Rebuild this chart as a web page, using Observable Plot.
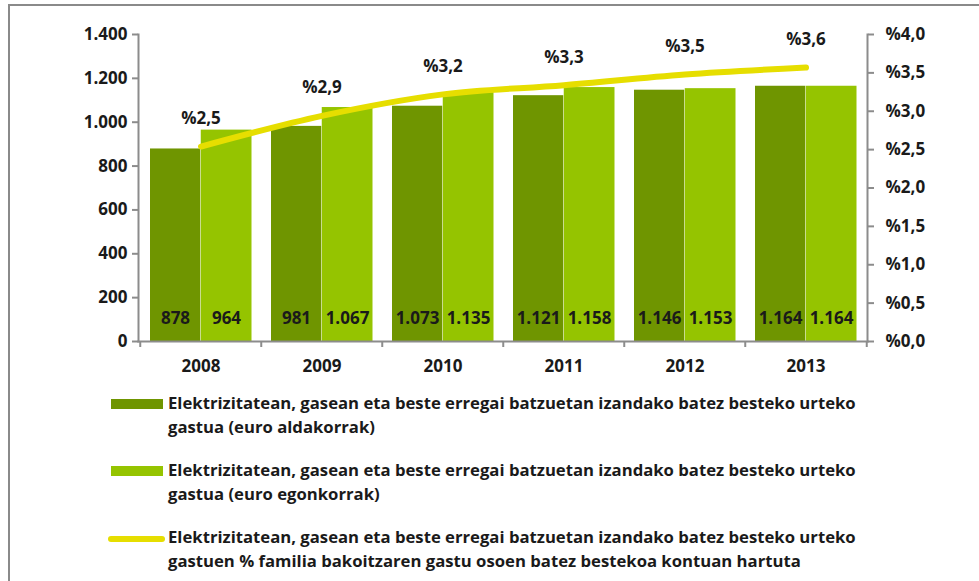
<!DOCTYPE html>
<html><head><meta charset="utf-8">
<script src="https://cdn.jsdelivr.net/npm/d3@7"></script>
<script src="https://cdn.jsdelivr.net/npm/@observablehq/plot@0.6"></script>
<style>
body{margin:0;background:#fff;font-family:"Open Sans",sans-serif;}
#wrap{position:relative;width:979px;height:581px;overflow:hidden;}
#chart{position:absolute;left:0;top:0;}
.bt{position:absolute;left:8px;top:4px;width:971px;height:2px;background:#8a8a8a;z-index:5;}
.bl{position:absolute;left:8px;top:4px;width:2px;height:577px;background:#8a8a8a;z-index:5;}
.leg{position:absolute;left:168px;font-size:16.7px;font-weight:700;line-height:24px;color:#1a1a1a;white-space:nowrap;}
.sw{position:absolute;}
</style></head><body><div id="wrap"><div id="chart"></div><div class="bt"></div><div class="bl"></div></div>
<script>
const years = ["2008","2009","2010","2011","2012","2013"];
const currentEuro = [878, 981, 1073, 1121, 1146, 1164];
const constantEuro = [964, 1067, 1135, 1158, 1153, 1164];
const sharePct = [2.54, 2.94, 3.22, 3.34, 3.48, 3.57];
const leftTicks = [0, 200, 400, 600, 800, 1000, 1200, 1400];
const rightTicks = [0, 0.5, 1, 1.5, 2, 2.5, 3, 3.5, 4];
const legendLines = [
  ["Elektrizitatean, gasean eta beste erregai batzuetan izandako batez besteko urteko", "gastua (euro aldakorrak)"],
  ["Elektrizitatean, gasean eta beste erregai batzuetan izandako batez besteko urteko", "gastua (euro egonkorrak)"],
  ["Elektrizitatean, gasean eta beste erregai batzuetan izandako batez besteko urteko", "gastuen % familia bakoitzaren gastu osoen batez bestekoa kontuan hartuta"]
];

const darkGreen = "#6f9500", lightGreen = "#95c400", yellow = "#e6de00", axisGray = "#8c8c8c", ink = "#1a1a1a";
const loc = d3.formatLocale({decimal: ",", thousands: ".", grouping: [3], currency: ["", ""]});
const fmtInt = loc.format(",d");
const fmtPct = v => "%" + loc.format(".1f")(v);
const K = 1400 / 4; // secondary axis mapping

const W = 979, H = 380, mL = 138, mR = 112, mT = 34, mB = 39;
const bw = (W - mL - mR) / years.length;
const FS = 17;

const darkData = years.map((y, i) => ({year: y, v: currentEuro[i]}));
const lightData = years.map((y, i) => ({year: y, v: constantEuro[i]}));
const lineData = years.map((y, i) => ({year: y, v: sharePct[i] * K, p: sharePct[i]}));

const plot = Plot.plot({
  width: W, height: H,
  marginLeft: mL, marginRight: mR, marginTop: mT, marginBottom: mB,
  style: {background: "transparent", fontFamily: "Open Sans, sans-serif", fontWeight: 700, fontSize: FS + "px", color: ink},
  x: {type: "band", domain: years, padding: 0},
  y: {domain: [0, 1400]},
  marks: [
    Plot.barY(darkData, {x: "year", y: "v", fill: darkGreen, insetLeft: 10, insetRight: bw / 2}),
    Plot.barY(lightData, {x: "year", y: "v", fill: lightGreen, insetLeft: bw / 2, insetRight: 9.5}),
    Plot.text(darkData, {x: "year", y: 0, text: d => fmtInt(d.v), dx: -25.5, dy: -23, fill: ink, fontSize: FS, fontWeight: 700}),
    Plot.text(lightData, {x: "year", y: 0, text: d => fmtInt(d.v), dx: 25.5, dy: -23, fill: ink, fontSize: FS, fontWeight: 700}),
    Plot.line(lineData, {x: "year", y: "v", curve: "monotone-x", stroke: yellow, strokeWidth: 6, strokeLinecap: "round"}),
    Plot.text(lineData, {x: "year", y: "v", text: d => fmtPct(d.p), dy: -28, fill: ink, fontSize: FS, fontWeight: 700}),
    Plot.frame({anchor: "left", stroke: axisGray, strokeWidth: 2}),
    Plot.frame({anchor: "right", stroke: axisGray, strokeWidth: 2}),
    Plot.frame({anchor: "bottom", stroke: axisGray, strokeWidth: 2}),
    Plot.ruleX(years, {x: d => d, dx: -bw / 2, y1: 0, y2: 0, insetBottom: -6, stroke: axisGray, strokeWidth: 2}),
    Plot.ruleX(years.slice(-1), {x: d => d, dx: bw / 2, y1: 0, y2: 0, insetBottom: -6, stroke: axisGray, strokeWidth: 2}),
    Plot.axisY({anchor: "left", ticks: leftTicks, tickFormat: fmtInt, tickSize: 6, tickPadding: 5, stroke: axisGray, strokeWidth: 2, fill: ink, fontSize: FS, label: null}),
    Plot.axisY({anchor: "right", ticks: rightTicks.map(t => t * K), tickFormat: d => fmtPct(d / K), tickSize: 6, tickPadding: 12, stroke: axisGray, strokeWidth: 2, fill: ink, fontSize: FS, label: null}),
    Plot.axisX({anchor: "bottom", tickSize: 0, tickPadding: 18, fill: ink, fontSize: FS, label: null})
  ]
});
document.getElementById("chart").appendChild(plot);

const wrap = document.getElementById("wrap");
const entryTops = [391, 458, 525];
const swatches = [
  {bg: darkGreen, left: 111, top: 399, w: 52, h: 10, r: 0},
  {bg: lightGreen, left: 111, top: 466, w: 52, h: 10, r: 0},
  {bg: yellow, left: 108, top: 536, w: 57, h: 6, r: 3}
];
legendLines.forEach((lines, i) => {
  const s = swatches[i];
  const sw = document.createElement("div");
  sw.className = "sw";
  Object.assign(sw.style, {left: s.left + "px", top: s.top + "px", width: s.w + "px", height: s.h + "px", background: s.bg, borderRadius: s.r + "px"});
  wrap.appendChild(sw);
  const t = document.createElement("div");
  t.className = "leg";
  t.style.top = entryTops[i] + "px";
  lines.forEach((l, j) => {
    if (j) t.appendChild(document.createElement("br"));
    t.appendChild(document.createTextNode(l));
  });
  wrap.appendChild(t);
});
</script></body></html>
